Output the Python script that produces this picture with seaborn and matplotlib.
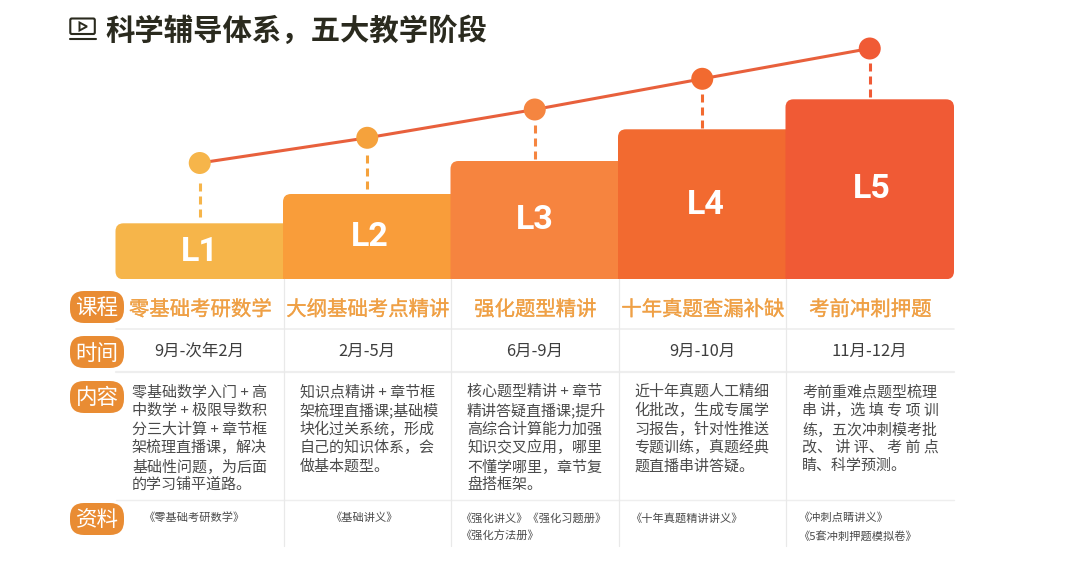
import pandas as pd
import seaborn as sns
import matplotlib.pyplot as plt
import matplotlib.patheffects as pe
from matplotlib.patches import FancyBboxPatch, Polygon
from matplotlib.path import Path
from matplotlib.transforms import IdentityTransform

# --- data ---
levels = ['L1', 'L2', 'L3', 'L4', 'L5']
bar_heights = [56, 85.3, 118.3, 150, 180]
point_values = [116.3, 141.5, 169.8, 200.5, 230.8]
stem_low = [62.3, 90.7, 120.7, 151, 182.3]
stem_high = [96.3, 124.7, 154.7, 185, 216.7]

bar_colors = ['#F6B54A', '#F99D3A', '#F6843F', '#F26A30', '#F05A35']
point_colors = ['#F6B54A', '#F5A23C', '#F58540', '#F26A30', '#F05A35']

row_names = ['课程', '时间', '内容', '资料']
courses = ['零基础考研数学', '大纲基础考点精讲', '强化题型精讲', '十年真题查漏补缺', '考前冲刺押题']
times = ['9月-次年2月', '2月-5月', '6月-9月', '9月-10月', '11月-12月']
contents = [
    ['零基础数学入门 + 高', '中数学 + 极限导数积', '分三大计算 + 章节框', '架梳理直播课\uff0c解决', '基础性问题\uff0c为后面', '的学习铺平道路。'],
    ['知识点精讲 + 章节框', '架梳理直播课;基础模', '块化过关系统\uff0c形成', '自己的知识体系\uff0c会', '做基本题型。'],
    ['核心题型精讲 + 章节', '精讲答疑直播课;提升', '高综合计算能力加强', '知识交叉应用\uff0c哪里', '不懂学哪里\uff0c章节复', '盘搭框架。'],
    ['近十年真题人工精细', '化批改\uff0c生成专属学', '习报告\uff0c针对性推送', '专题训练\uff0c真题经典', '题直播串讲答疑。'],
    ['考前重难点题型梳理', '串 讲\uff0c选 填 专 项 训', '练\uff0c五次冲刺模考批', '改、 讲 评、 考 前 点', '睛、科学预测。'],
]
materials = [
    ['《零基础考研数学》'],
    ['《基础讲义》'],
    ['《强化讲义》《强化习题册》', '《强化方法册》'],
    ['《十年真题精讲讲义》'],
    ['《冲刺点睛讲义》', '《5套冲刺押题模拟卷》'],
]
title = '科学辅导体系\uff0c五大教学阶段'

sns.set_theme(style='white')
plt.rcParams['font.family'] = ['Noto Sans CJK SC', 'DejaVu Sans']
plt.rcParams['lines.scale_dashes'] = False

W, H = 1076, 565
LEFT, COL, BASE = 116, 167.5, 279.3


def px(size):
    # font size in picture pixels -> points
    return size * 0.72


fig = plt.figure(figsize=(W / 100, H / 100), dpi=100, facecolor='white')

# --- stairs, line and points share one axes, one category = one column ---
ax = fig.add_axes([0, 0, 1, 1])
df = pd.DataFrame({'level': levels, 'height': bar_heights, 'point': point_values})
# a hair wider than 1 so no seam shows between the steps
sns.barplot(data=df, x='level', y='height', hue='level', palette=bar_colors,
            width=1.006, saturation=1, legend=False, linewidth=0, ax=ax)

for i in range(5):
    ax.plot([i, i], [stem_low[i], stem_high[i]], color=point_colors[i], lw=2.2,
            dashes=(px(8), px(5)), zorder=2, dash_capstyle='butt')
sns.lineplot(data=df, x='level', y='point', color='#E8603C', linewidth=2.2, ax=ax, zorder=3,
             errorbar=None)
sns.scatterplot(data=df, x='level', y='point', hue='level', palette=point_colors, s=251,
                linewidth=0, legend=False, ax=ax, zorder=4)
ax.set_xlim(-0.5 - LEFT / COL, -0.5 + (W - LEFT) / COL)
ax.set_ylim(BASE - H, BASE)
ax.axis('off')

# round only the outer corners of each step
fig.canvas.draw()
corner_sets = [(1, 1, 0, 0), (0, 1, 0, 0), (0, 1, 0, 0), (0, 1, 0, 0), (0, 1, 1, 1)]
r = 8
for bar, (bl, tl, tr, br) in zip(ax.patches, corner_sets):
    b = bar.get_window_extent()
    x0, x1, y0, y1 = b.x0, b.x1, b.y0, b.y1
    corners = [
        ((x0, y0 + r), (x0, y0), (x0 + r, y0), bl),
        ((x1 - r, y0), (x1, y0), (x1, y0 + r), br),
        ((x1, y1 - r), (x1, y1), (x1 - r, y1), tr),
        ((x0 + r, y1), (x0, y1), (x0, y1 - r), tl),
    ]
    verts, codes = [], []
    for entry, corner, leave, on in corners:
        if on:
            verts += [entry, corner, leave]
            codes += [Path.LINETO, Path.CURVE3, Path.CURVE3]
        else:
            verts.append(corner)
            codes.append(Path.LINETO)
    codes[0] = Path.MOVETO
    verts.append(verts[0])
    codes.append(Path.CLOSEPOLY)
    bar.set_clip_path(Path(verts, codes), IdentityTransform())

# --- everything around the chart is laid out in picture pixels ---
ov = fig.add_axes([0, 0, 1, 1], facecolor='none')
ov.set_xlim(0, W)
ov.set_ylim(H, 0)
ov.axis('off')

# title and its icon
dark = '#2A2A1E'
ov.add_patch(FancyBboxPatch((70.3, 18.5), 24.5, 15.5, boxstyle='round,pad=0,rounding_size=1.5',
                            fc='none', ec=dark, lw=1.5))
ov.plot([69.5, 96], [39, 39], color=dark, lw=1.5)
ov.add_patch(Polygon([(79.5, 22.5), (79.5, 30.5), (87, 26.5)], closed=True, fc='none', ec=dark, lw=1.4))
ov.text(105, 31, title, fontsize=px(29.4), fontweight='bold', color=dark, ha='left', va='center')

# L labels
label_x = [200, 369.5, 535, 706, 872]
label_y = [251.7, 236.7, 220, 205, 189]
for name, x, y in zip(levels, label_x, label_y):
    ov.text(x, y, name, color='white', fontsize=px(34), fontweight='bold', ha='center', va='center',
            family=['Roboto', 'DejaVu Sans'])

# table rules
edges = [LEFT + COL * i for i in range(6)]
for y, lw in [(329, 1.2), (372.3, 1.6), (500, 1.0)]:
    ov.plot([LEFT, edges[-1]], [y, y], color='#EEEEEE', lw=lw, zorder=1)
for x in edges[1:-1]:
    ov.plot([x, x], [BASE, 546], color='#E9E9E9', lw=0.9, zorder=1)

# row badges
badge_top = [291, 336, 381, 503]
for name, top in zip(row_names, badge_top):
    ov.add_patch(FancyBboxPatch((70, top), 54, 32, boxstyle='round,pad=0,rounding_size=14',
                                fc='#E98C33', ec='none'))
    ov.text(97, top + 17.5, name, color='white', fontsize=px(21.5), ha='center', va='center')

# columns
text_left = [132, 299.5, 467, 634.5, 802]
mat_center = [193.5, 363.5, None, None, None]
mat_left = [None, None, 460.5, 630, 798]
for i in range(5):
    cx = edges[i] + COL / 2
    ov.text(cx + 0.5, 310, courses[i], color='#EFA045', fontsize=px(20.4), ha='center', va='center',
            path_effects=[pe.withStroke(linewidth=0.2, foreground='#EFA045')])
    ov.text(cx, 351.5, times[i], color='#3E3E3E', fontsize=px(16.5), ha='center', va='center')
    for k, line in enumerate(contents[i]):
        ov.text(text_left[i], 392 + 18.55 * k, line, color='#4A4A4A', fontsize=px(15),
                ha='left', va='center')
    for k, line in enumerate(materials[i]):
        if mat_left[i] is None:
            ov.text(mat_center[i], 518, line, color='#4A4A4A', fontsize=px(11.2),
                    ha='center', va='center')
        else:
            ov.text(mat_left[i], 518 + 18 * k, line, color='#4A4A4A', fontsize=px(11.2),
                    ha='left', va='center')

fig.savefig('out.png', dpi=100, facecolor='white')
